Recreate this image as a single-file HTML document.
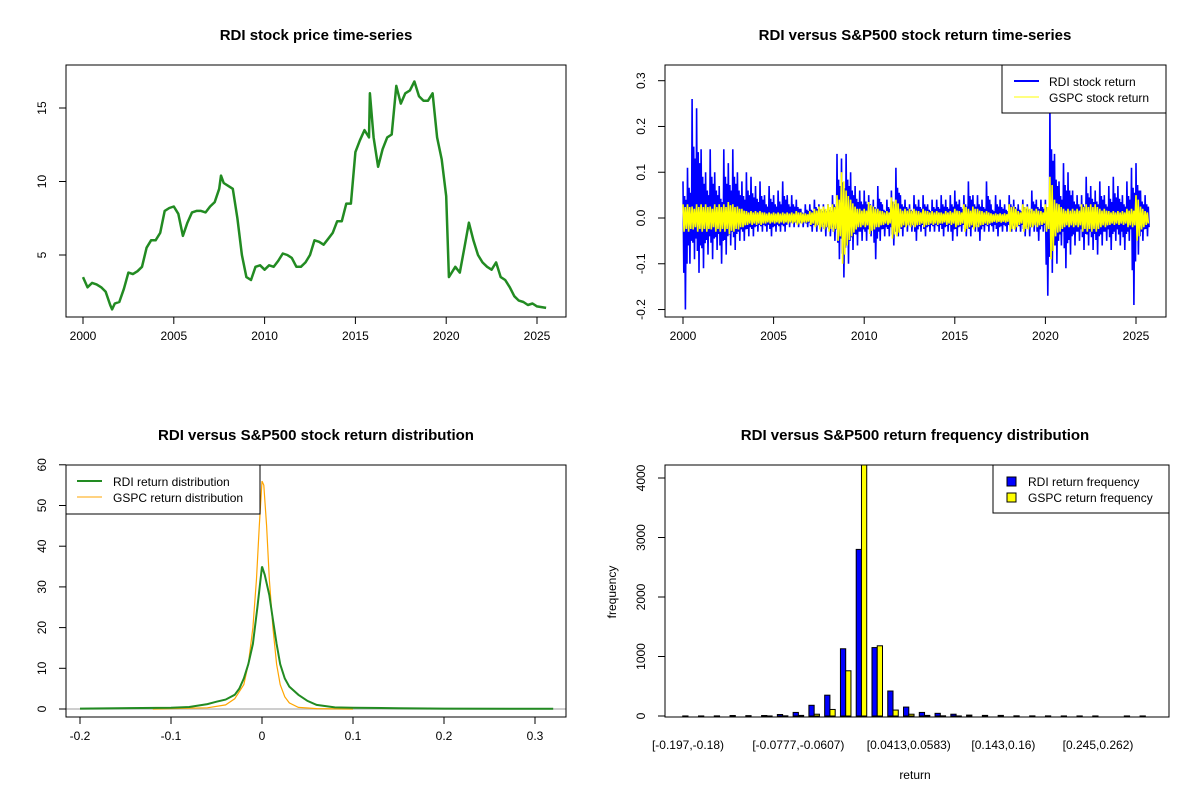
<!DOCTYPE html>
<html><head><meta charset="utf-8">
<style>
html,body{margin:0;padding:0;background:#fff;}
svg{display:block;font-family:"Liberation Sans",Arial,sans-serif;}
</style></head>
<body>
<svg id="fig" width="1200" height="800" viewBox="0 0 1200 800" xmlns="http://www.w3.org/2000/svg">
<rect width="1200" height="800" fill="#fff"/>
<g id="p1"></g>
<g id="p2"></g>
<g id="p3"></g>
<g id="p4"></g>
</svg>
<script>
// ---------- Panel 1 data ----------
const priceYears = [2000,2000.25,2000.5,2000.75,2001,2001.25,2001.5,2001.6,2001.75,2002,2002.25,2002.5,2002.75,2003,2003.25,2003.5,2003.75,2004,2004.25,2004.5,2004.75,2005,2005.25,2005.5,2005.75,2006,2006.25,2006.5,2006.75,2007,2007.25,2007.5,2007.6,2007.75,2008,2008.25,2008.5,2008.75,2009,2009.25,2009.5,2009.75,2010,2010.25,2010.5,2010.75,2011,2011.25,2011.5,2011.75,2012,2012.25,2012.5,2012.75,2013,2013.25,2013.5,2013.75,2014,2014.25,2014.5,2014.75,2015,2015.25,2015.5,2015.75,2015.8,2016,2016.25,2016.5,2016.75,2017,2017.25,2017.5,2017.75,2018,2018.25,2018.5,2018.75,2019,2019.25,2019.5,2019.75,2020,2020.15,2020.5,2020.75,2021,2021.25,2021.5,2021.75,2022,2022.25,2022.5,2022.75,2023,2023.25,2023.5,2023.75,2024,2024.25,2024.5,2024.75,2025,2025.5];
const priceValues = [3.5,2.8,3.1,3.0,2.8,2.5,1.6,1.3,1.7,1.8,2.7,3.8,3.7,3.9,4.2,5.5,6.0,6.0,6.5,8.0,8.2,8.3,7.8,6.3,7.2,7.9,8.0,8.0,7.9,8.3,8.6,9.5,10.4,9.9,9.7,9.5,7.5,5.0,3.5,3.3,4.2,4.3,4.0,4.3,4.2,4.6,5.1,5.0,4.8,4.2,4.2,4.5,5.0,6.0,5.9,5.7,6.1,6.5,7.3,7.3,8.5,8.5,12.0,12.8,13.5,13.0,16.0,13.0,11.0,12.2,13.0,13.2,16.5,15.3,16.0,16.2,16.8,15.8,15.5,15.5,16.0,13.0,11.5,9.0,3.5,4.2,3.8,5.5,7.2,6.0,5.0,4.5,4.2,4.0,4.5,3.5,3.3,2.8,2.2,1.9,1.8,1.6,1.7,1.5,1.4];
const yearTicks = [2000,2005,2010,2015,2020,2025];
const priceTicks = [5,10,15];

// ---------- Panel 2 data (quarterly extremes, 2000.0 .. 2025.5) ----------
const rdiHigh = [.08,.11,.26,.24, .15,.10,.15,.10, .07,.15,.12,.15, .10,.08,.10,.09, .07,.08,.05,.07, .05,.06,.08,.05, .05,.04,.02,.03, .03,.04,.03,.03, .03,.05,.14,.13, .14,.10,.07,.06, .06,.05,.04,.07, .03,.04,.06,.11, .05,.04,.03,.05, .04,.05,.03,.04, .04,.05,.04,.05, .06,.04,.05,.08, .05,.05,.04,.08, .03,.05,.04,.03, .05,.04,.03,.04, .03,.06,.04,.04, .04,.25,.14,.08, .12,.10,.06,.05, .05,.09,.07,.06, .08,.05,.07,.09, .07,.05,.08,.11, .12,.06,.05];
const rdiLow = [-.20,-.10,-.09,-.12, -.11,-.08,-.09,-.07, -.10,-.08,-.06,-.07, -.05,-.05,-.04,-.04, -.03,-.03,-.03,-.04, -.03,-.03,-.03,-.02, -.02,-.02,-.02,-.02, -.03,-.03,-.03,-.04, -.04,-.05,-.09,-.13, -.10,-.07,-.06,-.05, -.05,-.04,-.09,-.05, -.04,-.04,-.06,-.04, -.04,-.03,-.03,-.05, -.03,-.04,-.03,-.03, -.03,-.04,-.03,-.05, -.04,-.03,-.04,-.04, -.03,-.05,-.03,-.03, -.03,-.04,-.03,-.03, -.03,-.03,-.03,-.04, -.04,-.03,-.05,-.03, -.17,-.12,-.10,-.06, -.11,-.08,-.06,-.05, -.07,-.06,-.07,-.08, -.06,-.05,-.07,-.05, -.06,-.07,-.05,-.19, -.08,-.05,-.04];
const gspcAmp = [.03,.03,.025,.03, .03,.03,.025,.03, .03,.03,.035,.03, .025,.02,.015,.015, .015,.015,.012,.012, .012,.012,.012,.012, .012,.015,.012,.01, .015,.02,.025,.025, .03,.03,.05,.1, .06,.04,.025,.02, .02,.035,.025,.02, .015,.015,.045,.04, .02,.02,.02,.02, .015,.02,.015,.015, .015,.012,.015,.015, .02,.015,.03,.02, .025,.02,.015,.015, .01,.01,.01,.01, .03,.025,.015,.03, .025,.02,.02,.015, .03,.09,.04,.03, .02,.02,.02,.02, .03,.03,.03,.03, .02,.02,.015,.015, .015,.015,.02,.02, .05,.025,.015];
const returnTicks = [-0.2,-0.1,0,0.1,0.2,0.3];
const returnTickLabels = ["-0.2","-0.1","0.0","0.1","0.2","0.3"];

// ---------- Panel 3 data ----------
const rdiDensX = [-0.2,-0.1,-0.08,-0.06,-0.05,-0.04,-0.03,-0.025,-0.02,-0.015,-0.01,-0.005,0,0.003,0.008,0.012,0.016,0.02,0.025,0.03,0.04,0.05,0.06,0.08,0.1,0.15,0.2,0.32];
const rdiDensY = [0.1,0.3,0.5,1.2,1.8,2.3,3.5,5,7.5,11,16,25,35,33,28,22,16,11,7.5,5.5,3.5,2,1,0.4,0.3,0.2,0.1,0.05];
const gspcDensX = [-0.12,-0.06,-0.04,-0.03,-0.02,-0.015,-0.01,-0.006,-0.003,0,0.002,0.005,0.008,0.012,0.016,0.02,0.025,0.03,0.04,0.06,0.1];
const gspcDensY = [0,0.3,1,2.5,6,11,20,32,45,56,55,45,32,20,11,6,3,1.5,0.4,0.1,0];
const densXTicks = [-0.2,-0.1,0,0.1,0.2,0.3];
const densYTicks = [0,10,20,30,40,50,60];

// ---------- Panel 4 data ----------
const binLabels = ["[-0.197,-0.18)","[-0.0777,-0.0607)","[0.0413,0.0583)","[0.143,0.16)","[0.245,0.262)"];
const binLabelIdx = [0,7,14,20,26];
const rdiFreq = [1,1,2,8,6,8,25,60,180,350,1130,2800,1150,420,150,60,45,30,15,10,10,3,2,2,1,1,1,0,1,1];
const gspcFreq = [0,0,0,0,0,1,3,10,30,110,760,4330,1180,100,30,10,3,1,0,0,0,0,0,0,0,0,0,0,0,0];
const freqTicks = [0,1000,2000,3000,4000];

const NS = "http://www.w3.org/2000/svg";
function mk(tag, attrs, parent){ const e=document.createElementNS(NS,tag); for(const k in attrs) e.setAttribute(k,attrs[k]); parent.appendChild(e); return e; }
function txt(parent, x, y, s, size, anchor, rot, bold){
  const t=mk('text',{x:x,y:y,'font-size':size,'text-anchor':anchor||'middle',fill:'#000'},parent);
  if(rot) t.setAttribute('transform','rotate(-90 '+x+' '+y+')');
  if(bold) t.setAttribute('font-weight','bold');
  t.textContent=s; return t;
}
function box(parent,x0,y0,x1,y1){ return mk('rect',{x:x0,y:y0,width:x1-x0,height:y1-y0,fill:'none',stroke:'#000','stroke-width':1},parent); }

// ===== Panel 1 =====
(function(){
  const g=document.getElementById('p1');
  const X0=66,X1=566,Y0=65,Y1=317;
  const sx=v=>83+(v-2000)*(537-83)/25;
  const sy=v=>255-(v-5)*(255-108)/10;
  let t=txt(g,316,40,'RDI stock price time-series',15,'middle',false,true);
   
  let pts=priceYears.map((y,i)=>sx(y).toFixed(1)+','+sy(priceValues[i]).toFixed(1)).join(' ');
  let l=mk('polyline',{points:pts,fill:'none',stroke:'#228B22','stroke-width':2.5,'stroke-linejoin':'round'},g);
   
  let b=box(g,X0,Y0,X1,Y1);
   
  yearTicks.forEach(y=>{ const x=sx(y);
    mk('line',{x1:x,x2:x,y1:Y1,y2:Y1+7,stroke:'#000'},g);
    let tt=txt(g,x,Y1+23,String(y),12);
      });
  priceTicks.forEach(v=>{ const y=sy(v);
    mk('line',{x1:X0-7,x2:X0,y1:y,y2:y,stroke:'#000'},g);
    let tt=txt(g,X0-20,y,String(v),12,'middle',true);
      });
})();

// ===== Panel 2 =====
(function(){
  const g=document.getElementById('p2');
  const X0=665,X1=1166,Y0=65,Y1=317;
  const sx=v=>683+(v-2000)*(1136-683)/25;
  const sy=v=>218-v*(218-80.7)/0.3;
  let t=txt(g,915,40,'RDI versus S&P500 stock return time-series',15,'middle',false,true);
   
  const clip=mk('clipPath',{id:'c2'},g); mk('rect',{x:X0,y:Y0,width:X1-X0,height:Y1-Y0},clip);
  let p=[]; rdiHigh.forEach((h,i)=>{ const x=sx(2000+i*0.25); const lo=rdiLow[i];
    p.push(x.toFixed(1)+','+sy(h).toFixed(1));
    p.push((x+0.8).toFixed(1)+','+sy(lo*0.6).toFixed(1));
    p.push((x+1.6).toFixed(1)+','+sy(h*0.6).toFixed(1));
    p.push((x+2.4).toFixed(1)+','+sy(lo).toFixed(1));
    p.push((x+3.2).toFixed(1)+','+sy(h*0.5).toFixed(1));
    p.push((x+4.0).toFixed(1)+','+sy(lo*0.5).toFixed(1)); });
  let l=mk('polyline',{points:p.join(' '),fill:'none',stroke:'#0000FF','stroke-width':1.6,'clip-path':'url(#c2)'},g);
   
  let q=[]; gspcAmp.forEach((a,i)=>{ const x=sx(2000+i*0.25); q.push(x.toFixed(1)+','+sy(a).toFixed(1)); q.push((x+1.1).toFixed(1)+','+sy(-a).toFixed(1)); q.push((x+2.2).toFixed(1)+','+sy(a*0.8).toFixed(1)); q.push((x+3.3).toFixed(1)+','+sy(-a*0.8).toFixed(1)); });
  let l2=mk('polyline',{points:q.join(' '),fill:'none',stroke:'#FFFF00','stroke-width':1.6,'clip-path':'url(#c2)'},g);
   
  let b=box(g,X0,Y0,X1,Y1);
   
  yearTicks.forEach(y=>{ const x=sx(y);
    mk('line',{x1:x,x2:x,y1:Y1,y2:Y1+7,stroke:'#000'},g);
    let tt=txt(g,x,Y1+23,String(y),12);
      });
  returnTicks.forEach((v,i)=>{ const y=sy(v);
    mk('line',{x1:X0-7,x2:X0,y1:y,y2:y,stroke:'#000'},g);
    let tt=txt(g,X0-20,y,returnTickLabels[i],12,'middle',true);
      });
  const lg=mk('g',{},g);
   
  mk('rect',{x:1002,y:65,width:164,height:48,fill:'#fff',stroke:'#000'},lg);
  mk('line',{x1:1014,x2:1039,y1:81,y2:81,stroke:'#0000FF','stroke-width':2},lg);
  mk('line',{x1:1014,x2:1039,y1:97,y2:97,stroke:'#FFFF00','stroke-width':1},lg);
  let a=txt(lg,1049,86,'RDI stock return',12,'start');
   
  let c=txt(lg,1049,102,'GSPC stock return',12,'start');
   
})();

// ===== Panel 3 =====
(function(){
  const g=document.getElementById('p3');
  const X0=66,X1=566,Y0=465,Y1=717;
  const sx=v=>262+v*(353-262)/0.1;
  const sy=v=>709-v*(709-668.3)/10;
  let t=txt(g,316,440,'RDI versus S&P500 stock return distribution',15,'middle',false,true);
   
  let z=mk('line',{x1:X0,x2:X1,y1:sy(0),y2:sy(0),stroke:'#BEBEBE','stroke-width':1.5},g);
   
  let l2=mk('polyline',{points:gspcDensX.map((x,i)=>sx(x).toFixed(1)+','+sy(gspcDensY[i]).toFixed(1)).join(' '),fill:'none',stroke:'#FFA500','stroke-width':1.2},g);
   
  let l=mk('polyline',{points:rdiDensX.map((x,i)=>sx(x).toFixed(1)+','+sy(rdiDensY[i]).toFixed(1)).join(' '),fill:'none',stroke:'#228B22','stroke-width':2},g);
   
  let b=box(g,X0,Y0,X1,Y1);
   
  densXTicks.forEach(v=>{ const x=sx(v);
    mk('line',{x1:x,x2:x,y1:Y1,y2:Y1+7,stroke:'#000'},g);
    let tt=txt(g,x,Y1+23,String(v),12);
      });
  densYTicks.forEach(v=>{ const y=sy(v);
    mk('line',{x1:X0-7,x2:X0,y1:y,y2:y,stroke:'#000'},g);
    let tt=txt(g,X0-20,y,String(v),12,'middle',true);
      });
  const lg=mk('g',{},g);
   
  mk('rect',{x:66,y:465,width:194,height:49,fill:'#fff',stroke:'#000'},lg);
  mk('line',{x1:77,x2:102,y1:481,y2:481,stroke:'#228B22','stroke-width':2},lg);
  mk('line',{x1:77,x2:102,y1:497,y2:497,stroke:'#FFA500','stroke-width':1},lg);
  let a=txt(lg,113,486,'RDI return distribution',12,'start');
   
  let c=txt(lg,113,502,'GSPC return distribution',12,'start');
   
})();

// ===== Panel 4 =====
(function(){
  const g=document.getElementById('p4');
  const X0=665,X1=1169,Y0=465,Y1=717;
  const cx=k=>688+k*15.77;
  const sy=v=>716-v*(716-478)/4000;
  const bw=5.26;
  let t=txt(g,915,440,'RDI versus S&P500 return frequency distribution',15,'middle',false,true);
   
  const clip=mk('clipPath',{id:'c4'},g); mk('rect',{x:X0,y:Y0,width:X1-X0,height:Y1-Y0},clip);
  const bars=mk('g',{'clip-path':'url(#c4)'},g);
  rdiFreq.forEach((v,k)=>{ const y=sy(v);
    let r=mk('rect',{x:cx(k)-bw,y:y,width:bw,height:sy(0)-y,fill:'#0000FF',stroke:'#000','stroke-width':1},bars);
      });
  gspcFreq.forEach((v,k)=>{ const y=sy(v);
    let r=mk('rect',{x:cx(k),y:y,width:bw,height:sy(0)-y,fill:'#FFFF00',stroke:'#000','stroke-width':1},bars);
      });
  let b=box(g,X0,Y0,X1,Y1);
   
  freqTicks.forEach(v=>{ const y=sy(v);
    mk('line',{x1:X0-7,x2:X0,y1:y,y2:y,stroke:'#000'},g);
    let tt=txt(g,X0-20,y,String(v),12,'middle',true);
      });
  binLabels.forEach((s,i)=>{
    let tt=txt(g,cx(binLabelIdx[i]),749,s,12);
      });
  let xl=txt(g,915,779,'return',12);
   
  let yl=txt(g,616,592,'frequency',12,'middle',true);
   
  const lg=mk('g',{},g);
   
  mk('rect',{x:993,y:465,width:176,height:48,fill:'#fff',stroke:'#000'},lg);
  mk('rect',{x:1007,y:477,width:9,height:9,fill:'#0000FF',stroke:'#000'},lg);
  mk('rect',{x:1007,y:493,width:9,height:9,fill:'#FFFF00',stroke:'#000'},lg);
  let a=txt(lg,1028,486,'RDI return frequency',12,'start');
   
  let c=txt(lg,1028,502,'GSPC return frequency',12,'start');
   
})();
</script>
</body></html>
